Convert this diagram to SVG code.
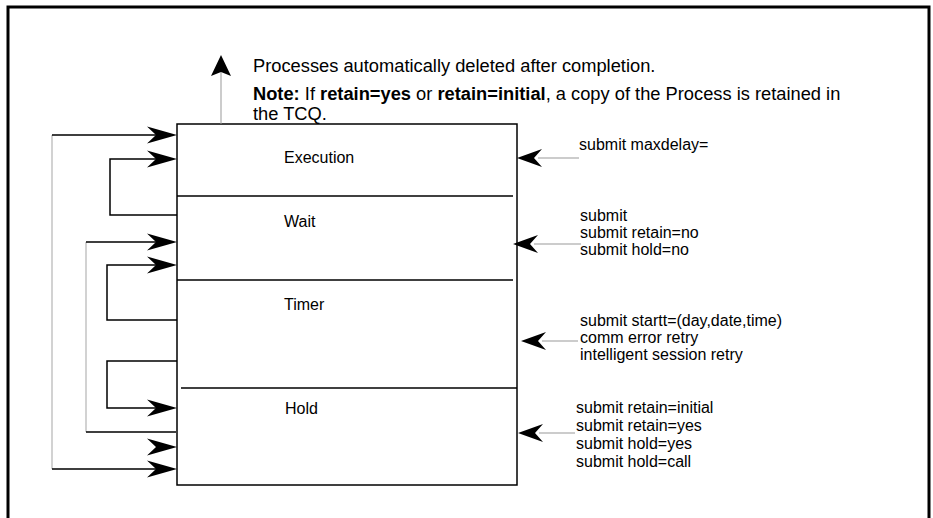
<svg xmlns="http://www.w3.org/2000/svg" xmlns:xlink="http://www.w3.org/1999/xlink" width="933" height="518" viewBox="0 0 933 518">
<style>
text{font-family:"Liberation Sans",Arial,sans-serif;font-size:16px;fill:#000}
.nt{font-size:18.3px}
.b{font-weight:bold}
.ln{fill:none;stroke:#000;stroke-width:1.5}
.gr{fill:none;stroke:#b4b4b4;stroke-width:1.2}
.thin{fill:none;stroke:#999;stroke-width:1}
.ah{fill:#000}
</style>
<defs>
<path id="ahr" d="M0,0 L-30,-8.5 L-21,0 L-30,8.5 Z"/>
<path id="ahl" d="M0,0 L25,-9 L17,0 L25,9 Z"/>
</defs>
<path d="M8,518 V7 H929 V518" fill="none" stroke="#000" stroke-width="3"/>
<g id="notes">
<text class="nt" x="253" y="72">Processes automatically deleted after completion.</text>
<text class="nt" x="253" y="100"><tspan class="b">Note:</tspan> If <tspan class="b">retain=yes</tspan> or <tspan class="b">retain=initial</tspan>, a copy of the Process is retained in</text>
<text class="nt" x="253" y="120">the TCQ.</text>
</g>
<g id="queue">
<rect x="177" y="124" width="340" height="361" class="ln"/>
</g>
<g id="execution">
<line x1="177" y1="196" x2="513" y2="196" class="ln"/>
<text x="284" y="163">Execution</text>
</g>
<g id="wait">
<line x1="177" y1="280" x2="513" y2="280" class="ln"/>
<text x="284" y="227">Wait</text>
</g>
<g id="timer">
<line x1="181" y1="388" x2="517" y2="388" class="ln"/>
<text x="284" y="310">Timer</text>
</g>
<g id="hold">
<text x="285" y="414">Hold</text>
</g>
<g id="labels">
<text x="579" y="150">submit maxdelay=</text>
<text x="580" y="221">submit</text>
<text x="580" y="238">submit retain=no</text>
<text x="580" y="255">submit hold=no</text>
<text x="580" y="326">submit startt=(day,date,time)</text>
<text x="580" y="343">comm error retry</text>
<text x="580" y="360">intelligent session retry</text>
<text x="576" y="413">submit retain=initial</text>
<text x="576" y="431">submit retain=yes</text>
<text x="576" y="449">submit hold=yes</text>
<text x="576" y="467">submit hold=call</text>
</g>
<g id="connectors">
<line x1="221" y1="124" x2="221" y2="72" class="thin"/>
<path d="M221,55 L211,76 L221,72 L231,76 Z" class="ah"/>
<path d="M52,135 V469" class="gr"/>
<path d="M52,135 H170 M52,469 H170" class="ln"/>
<use xlink:href="#ahr" x="177" y="135" class="ah"/>
<use xlink:href="#ahr" x="177" y="469" class="ah"/>
<path d="M177,215 H110 V159 H170" class="ln"/>
<use xlink:href="#ahr" x="177" y="159" class="ah"/>
<path d="M86,242 V432" class="gr"/>
<path d="M86,242 H170 M86,432 H176" class="ln"/>
<use xlink:href="#ahr" x="177" y="242" class="ah"/>
<use xlink:href="#ahr" x="177" y="447" class="ah"/>
<path d="M177,320 H107 V265 H170" class="ln"/>
<use xlink:href="#ahr" x="177" y="265" class="ah"/>
<path d="M177,361 H107 V408 H170" class="ln"/>
<use xlink:href="#ahr" x="177" y="408" class="ah"/>
<line x1="579" y1="158" x2="538" y2="158" class="thin"/>
<use xlink:href="#ahl" x="517" y="158" class="ah"/>
<line x1="581" y1="244" x2="534" y2="244" class="thin"/>
<use xlink:href="#ahl" x="513" y="244" class="ah"/>
<line x1="578" y1="341" x2="542" y2="341" class="thin"/>
<use xlink:href="#ahl" x="521" y="341" class="ah"/>
<line x1="575" y1="433" x2="539" y2="433" class="thin"/>
<use xlink:href="#ahl" x="518" y="433" class="ah"/>
</g>
</svg>
